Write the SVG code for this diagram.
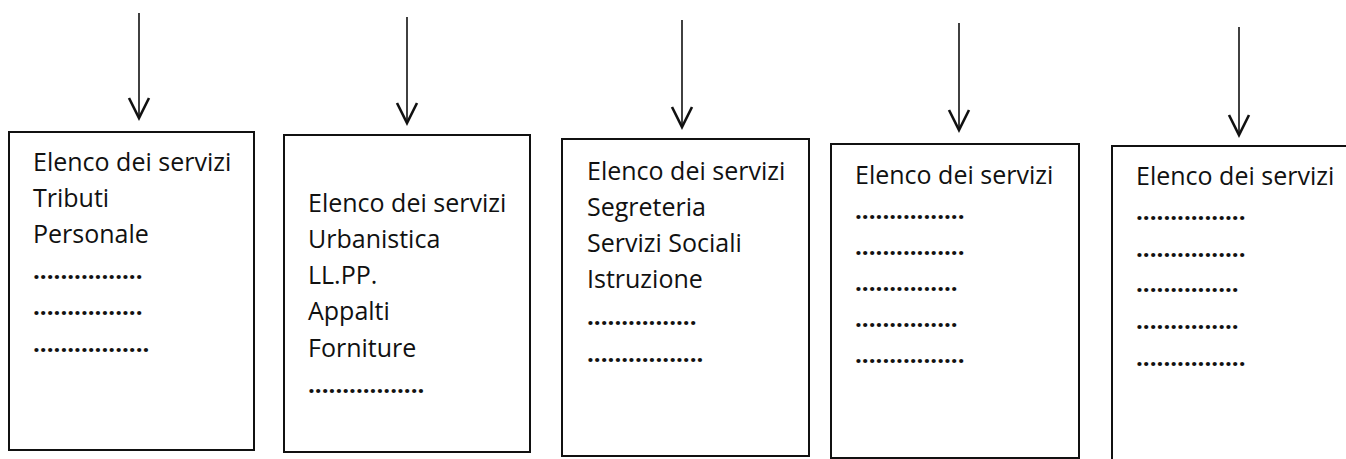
<svg xmlns="http://www.w3.org/2000/svg" width="1346" height="459" viewBox="0 0 1346 459">
<style>
  .box { fill: #ffffff; stroke: #111111; stroke-width: 2; }
  .t { font-family: "Open Sans", "Liberation Sans", sans-serif; font-size: 25px; fill: #111111; }
  .d { font-family: "Open Sans", "Liberation Sans", sans-serif; font-size: 24px; font-weight: bold; fill: #111111; }
  .conn { stroke: #111111; stroke-width: 1.6; fill: none; }
</style>
<defs>
  <marker id="vhead" markerUnits="userSpaceOnUse" markerWidth="24" markerHeight="24" refX="0" refY="0" orient="auto" overflow="visible">
    <path d="M-20,-10 L0,0 L-20,10" fill="none" stroke="#111111" stroke-width="2.6" stroke-linejoin="miter"/>
  </marker>
</defs>
<rect width="1346" height="459" fill="#ffffff"/>
<g id="connectors">
  <line class="conn" x1="139" y1="13" x2="139" y2="118" marker-end="url(#vhead)"/>
  <line class="conn" x1="407" y1="17" x2="407" y2="123" marker-end="url(#vhead)"/>
  <line class="conn" x1="682" y1="20" x2="682" y2="127" marker-end="url(#vhead)"/>
  <line class="conn" x1="959" y1="23" x2="959" y2="130" marker-end="url(#vhead)"/>
  <line class="conn" x1="1239" y1="27" x2="1239" y2="135" marker-end="url(#vhead)"/>
</g>
<g id="node1">
  <rect class="box" x="9" y="132" width="245" height="318"/>
  <text class="t" x="33" y="171">Elenco dei servizi</text>
  <text class="t" x="33" y="207">Tributi</text>
  <text class="t" x="33" y="243">Personale</text>
  <text class="d" x="33" y="279">................</text>
  <text class="d" x="33" y="315">................</text>
  <text class="d" x="33" y="352">.................</text>
</g>
<g id="node2">
  <rect class="box" x="284" y="135" width="246" height="317"/>
  <text class="t" x="308" y="212">Elenco dei servizi</text>
  <text class="t" x="308" y="248">Urbanistica</text>
  <text class="t" x="308" y="284">LL.PP.</text>
  <text class="t" x="308" y="320">Appalti</text>
  <text class="t" x="308" y="357">Forniture</text>
  <text class="d" x="308" y="393">.................</text>
</g>
<g id="node3">
  <rect class="box" x="562" y="139" width="247" height="317"/>
  <text class="t" x="587" y="180">Elenco dei servizi</text>
  <text class="t" x="587" y="216">Segreteria</text>
  <text class="t" x="587" y="252">Servizi Sociali</text>
  <text class="t" x="587" y="288">Istruzione</text>
  <text class="d" x="587" y="325">................</text>
  <text class="d" x="587" y="362">.................</text>
</g>
<g id="node4">
  <rect class="box" x="831" y="144" width="248" height="314"/>
  <text class="t" x="855" y="184">Elenco dei servizi</text>
  <text class="d" x="855" y="219">................</text>
  <text class="d" x="855" y="255">................</text>
  <text class="d" x="855" y="291">...............</text>
  <text class="d" x="855" y="327">...............</text>
  <text class="d" x="855" y="363">................</text>
</g>
<g id="node5">
  <rect class="box" x="1112" y="146" width="260" height="330"/>
  <text class="t" x="1136" y="185">Elenco dei servizi</text>
  <text class="d" x="1136" y="220">................</text>
  <text class="d" x="1136" y="257">................</text>
  <text class="d" x="1136" y="292">...............</text>
  <text class="d" x="1136" y="329">...............</text>
  <text class="d" x="1136" y="366">................</text>
</g>
</svg>
